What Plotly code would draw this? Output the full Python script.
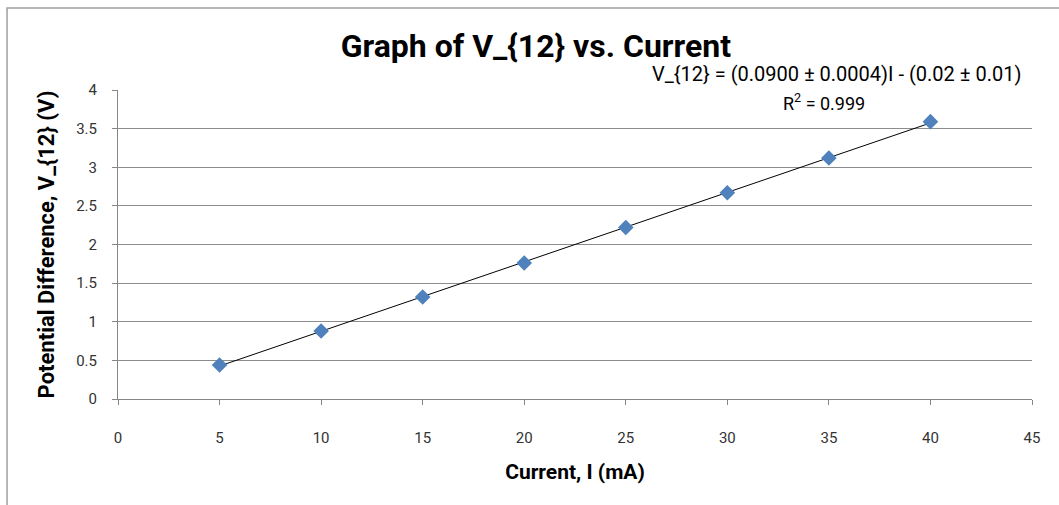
import numpy as np
import plotly.graph_objects as go

current_mA = [5, 10, 15, 20, 25, 30, 35, 40]
v12 = [0.44, 0.88, 1.32, 1.76, 2.22, 2.67, 3.12, 3.59]
x_ticks = [0, 5, 10, 15, 20, 25, 30, 35, 40, 45]
y_ticks = [0, 0.5, 1, 1.5, 2, 2.5, 3, 3.5, 4]

slope, intercept = np.polyfit(current_mA, v12, 1)
fit_x = [min(current_mA), max(current_mA)]
fit_y = [slope * x + intercept for x in fit_x]

FONT = "Roboto, Open Sans"
fig = go.Figure()
fig.add_trace(go.Scatter(x=fit_x, y=fit_y, mode="lines",
                         line=dict(color="#000000", width=1), showlegend=False, hoverinfo="skip"))
fig.add_trace(go.Scatter(x=current_mA, y=v12, mode="markers",
                         marker=dict(symbol="diamond", size=12, color="#4F81BD"), showlegend=False))

fig.update_layout(
    width=1059, height=505,
    margin=dict(l=118, r=27, t=90, b=106),
    paper_bgcolor="white", plot_bgcolor="white",
    font=dict(family=FONT, color="#000000"),
    title=dict(text="<b>Graph of V_{12} vs. Current</b>", x=0.506, xanchor="center",
               y=0.909, yanchor="middle", font=dict(size=32, family=FONT)),
    xaxis=dict(range=[0, 45], tickvals=x_ticks, showgrid=False, zeroline=False,
               showline=True, linecolor="#868686", linewidth=1,
               ticks="outside", ticklen=5, tickcolor="#868686", ticklabelstandoff=20,
               tickfont=dict(size=15, color="#333333"),
               title=dict(text="<b>Current, I (mA)</b>", font=dict(size=21), standoff=18)),
    yaxis=dict(range=[0, 4], tickvals=y_ticks, showgrid=True, gridcolor="#8C8C8C", gridwidth=1,
               zeroline=False, showline=True, linecolor="#868686", linewidth=1,
               ticks="outside", ticklen=5, tickcolor="#868686", ticklabelstandoff=12,
               tickfont=dict(size=15, color="#333333"),
               title=dict(text="<b>Potential Difference, V_{12} (V)</b>", font=dict(size=22), standoff=15)),
)

fig.add_annotation(xref="paper", yref="paper", x=0.99, y=1.0, xanchor="right", yanchor="middle",
                   yshift=16, text="V_{12} = (0.0900 ± 0.0004)I - (0.02 ± 0.01)", showarrow=False,
                   font=dict(size=20, family=FONT))
fig.add_annotation(xref="paper", yref="paper", x=0.772, y=1.0, xanchor="center", yanchor="middle",
                   yshift=-12, text="R<sup>2</sup> = 0.999", showarrow=False, font=dict(size=18, family=FONT))

fig.add_shape(type="rect", xref="paper", yref="paper", x0=-0.1214, x1=1.1, y0=-0.5, y1=1.265,
              line=dict(color="#A0A0A0", width=1.5), fillcolor="rgba(0,0,0,0)", layer="below")

fig.write_html("out.html")
